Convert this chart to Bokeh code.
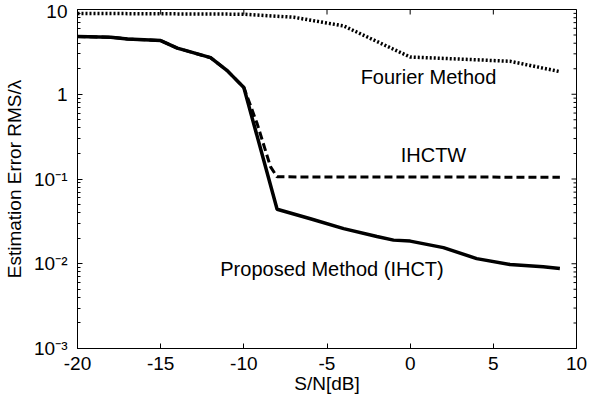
import math
from bokeh.plotting import figure
from bokeh.models import Range1d, FixedTicker, CustomJSTickFormatter, ColumnDataSource
from bokeh.core.properties import value
from bokeh.embed import file_html
from bokeh.resources import INLINE

# ---------------- data ----------------
snr_ihct = [-20, -18, -17, -15, -14, -12, -11, -10, -8, -6, -4, -2, -1, 0, 2, 4, 6, 8, 9]
err_ihct = [4.8, 4.7, 4.5, 4.3, 3.5, 2.7, 1.9, 1.2, 0.044, 0.034, 0.026, 0.021, 0.019,
            0.0185, 0.0155, 0.0115, 0.0098, 0.0092, 0.0088]

snr_ihctw = [-20, -18, -17, -15, -14, -12, -11, -10, -9.2, -8.4, -8, 9]
err_ihctw = [4.8, 4.7, 4.5, 4.3, 3.5, 2.7, 1.9, 1.2, 0.45, 0.14, 0.106, 0.105]

snr_fourier = [-20, -10, -7, -4, 0, 3, 6, 9]
err_fourier = [9.0, 8.8, 8.1, 6.4, 2.75, 2.6, 2.45, 1.85]

ann_x = [1.1, 1.4, -4.7]
ann_y = [1.6, 0.19, 0.0087]
ann_text = ["Fourier Method", "IHCTW", "Proposed Method (IHCT)"]

x_ticks = [-20, -15, -10, -5, 0, 5, 10]
x_tick_labels = ["-20", "-15", "-10", "-5", "0", "5", "10"]
y_tick_values = [0.001, 0.01, 0.1, 1, 10]
y_tick_labels = ["10\u207b\u00b3", "10\u207b\u00b2", "10\u207b\u00b9", "1", "10"]

X_MIN, X_MAX = -20, 10
Y_MIN, Y_MAX = 0.001, 10

FONT = "Liberation Sans"

p = figure(width=597, height=402, output_backend="svg", toolbar_location=None,
           y_axis_type="log", x_range=Range1d(X_MIN, X_MAX), y_range=Range1d(Y_MIN, Y_MAX),
           min_border_left=77, min_border_right=21, min_border_top=9, min_border_bottom=54)
p.xgrid.visible = False
p.ygrid.visible = False
p.outline_line_color = "black"
p.outline_line_width = 1
p.background_fill_color = "white"
p.border_fill_color = "white"

minor_y = [k * 10.0 ** e for e in range(-3, 1) for k in range(2, 10)]

xfmt = CustomJSTickFormatter(args=dict(vals=x_ticks, labs=x_tick_labels), code="""
let best = 0, bd = 1e9;
for (let i = 0; i < vals.length; i++) {
  const d = Math.abs(vals[i] - tick);
  if (d < bd) { bd = d; best = i; }
}
return labs[best];
""")
yfmt = CustomJSTickFormatter(args=dict(vals=y_tick_values, labs=y_tick_labels), code="""
let best = 0, bd = 1e9;
for (let i = 0; i < vals.length; i++) {
  const d = Math.abs(Math.log10(vals[i]) - Math.log10(tick));
  if (d < bd) { bd = d; best = i; }
}
return labs[best];
""")

for ax in (p.xaxis[0], p.yaxis[0]):
    ax.major_tick_in = 5
    ax.major_tick_out = 0
    ax.minor_tick_in = 3
    ax.minor_tick_out = 0
    ax.axis_line_color = "black"
    ax.major_tick_line_color = "black"
    ax.minor_tick_line_color = "black"
    ax.major_label_text_font = FONT
    ax.major_label_text_color = "black"
    ax.major_label_text_font_size = "19px"
    ax.axis_label_text_font = FONT
    ax.axis_label_text_font_style = "normal"
    ax.axis_label_text_font_size = "19px"
    ax.axis_label_text_color = "black"

xa = p.xaxis[0]
xa.ticker = FixedTicker(ticks=x_ticks, minor_ticks=[])
xa.formatter = xfmt
xa.axis_label = "S/N[dB]"
xa.major_label_standoff = 8
xa.axis_label_standoff = 0

ya = p.yaxis[0]
ya.ticker = FixedTicker(ticks=y_tick_values, minor_ticks=minor_y)
ya.formatter = yfmt
ya.axis_label = "Estimation Error RMS/\u03bb"
ya.major_label_standoff = 10
ya.axis_label_standoff = 6

# mirrored ticks on the top and right frame edges (markers centred on the edge, clipped by frame)
p.scatter(x=x_ticks, y=[Y_MAX] * len(x_ticks), marker="dash", size=10, angle=math.pi / 2,
          line_color="black", line_width=1)
p.scatter(x=[X_MAX] * len(y_tick_values), y=y_tick_values, marker="dash", size=10,
          line_color="black", line_width=1)
p.scatter(x=[X_MAX] * len(minor_y), y=minor_y, marker="dash", size=6,
          line_color="black", line_width=1)

p.line(snr_fourier, err_fourier, line_color="black", line_width=3.5, line_dash="2 2")
p.line(snr_ihctw, err_ihctw, line_color="black", line_width=3, line_dash="8 4")
p.line(snr_ihct, err_ihct, line_color="black", line_width=3.5)

src = ColumnDataSource(dict(x=ann_x, y=ann_y, t=ann_text))
p.text(x="x", y="y", text="t", source=src, text_font=value(FONT), text_font_size="20px",
       text_align="center", text_baseline="middle", text_color="black")

with open("out.html", "w", encoding="utf-8") as f:
    f.write(file_html(p, INLINE))
